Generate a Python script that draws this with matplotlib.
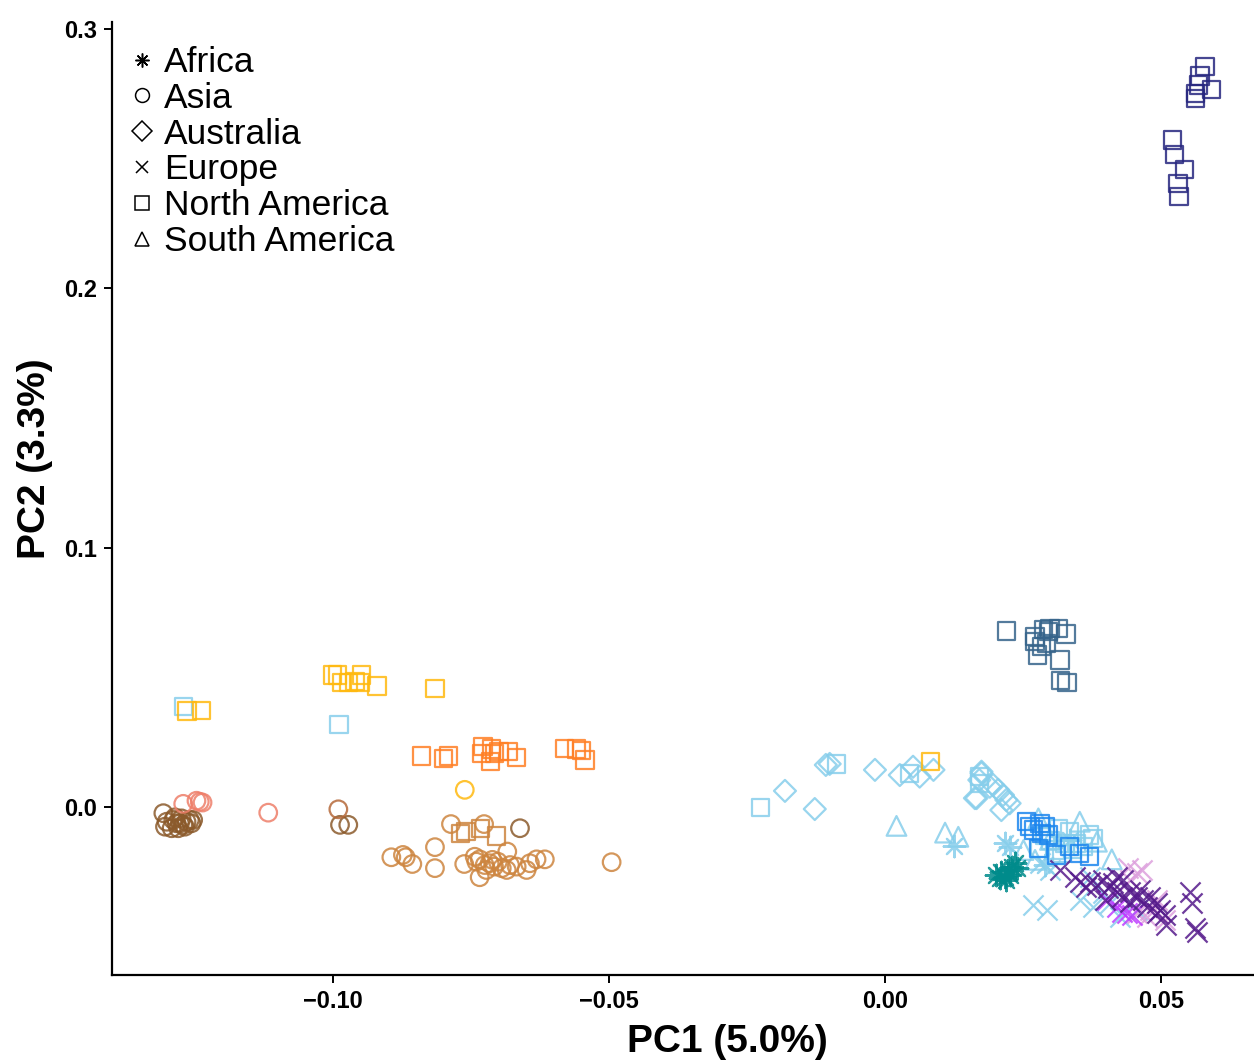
import matplotlib
matplotlib.use("Agg")
import matplotlib.pyplot as plt
from matplotlib.lines import Line2D

plt.rcParams['font.family'] = ['Liberation Sans', 'DejaVu Sans']

# ---------------- data (PC1, PC2) ----------------
# North America - navy cluster (top right)
na_navy_x = [0.0580, 0.0571, 0.0568, 0.0592, 0.0563, 0.0563, 0.0521, 0.0524, 0.0543, 0.0531, 0.0533]
na_navy_y = [0.2855, 0.2819, 0.2784, 0.2768, 0.2752, 0.2733, 0.2572, 0.2517, 0.2459, 0.2405, 0.2354]

# North America - steel blue cluster
na_steel_x = [0.0220, 0.0272, 0.0287, 0.0299, 0.0314, 0.0328, 0.0272, 0.0293, 0.0284, 0.0276, 0.0317, 0.0318, 0.0330, 0.0296]
na_steel_y = [0.0679, 0.0657, 0.0683, 0.0689, 0.0689, 0.0667, 0.0637, 0.0631, 0.0618, 0.0586, 0.0567, 0.0487, 0.0481, 0.0676]

# North America - gold
na_gold_x = [-0.1001, -0.0992, -0.0984, -0.0972, -0.0951, -0.0948, -0.0960, -0.0920, -0.0815, -0.1264, -0.1238, 0.0083]
na_gold_y = [0.0509, 0.0509, 0.0481, 0.0481, 0.0481, 0.0509, 0.0483, 0.0467, 0.0458, 0.0370, 0.0371, 0.0175]

# North America - orange
na_orange_x = [-0.0839, -0.0800, -0.0790, -0.0728, -0.0731, -0.0713, -0.0707, -0.0714, -0.0699, -0.0682, -0.0667, -0.0580, -0.0559, -0.0549, -0.0543]
na_orange_y = [0.0197, 0.0188, 0.0197, 0.0233, 0.0207, 0.0223, 0.0207, 0.0175, 0.0213, 0.0213, 0.0192, 0.0226, 0.0223, 0.0217, 0.0181]

# North America - peru
na_peru_x = [-0.0759, -0.0769, -0.0732, -0.0703]
na_peru_y = [-0.0095, -0.0101, -0.0082, -0.0112]

# North America - sky blue
na_sky_x = [-0.1271, -0.0989, -0.0225, -0.0088, 0.0045, 0.0172, 0.0171,
            0.0314, 0.0371, 0.0377, 0.0335, 0.0326, 0.0347, 0.0281, 0.0308, 0.0359, 0.0320,
            0.0300, 0.0290, 0.0340]
na_sky_y = [0.0388, 0.0319, -0.0003, 0.0166, 0.0130, 0.0117, 0.0091,
            -0.0082, -0.0108, -0.0121, -0.0095, -0.0140, -0.0140, -0.0159, -0.0166, -0.0153, -0.0179,
            -0.0130, -0.0110, -0.0165]

# North America - bright blue
na_blue_x = [0.0257, 0.0263, 0.0281, 0.0290, 0.0296, 0.0278, 0.0311, 0.0335, 0.0353, 0.0371, 0.0284, 0.0269]
na_blue_y = [-0.0057, -0.0076, -0.0063, -0.0076, -0.0108, -0.0159, -0.0185, -0.0153, -0.0179, -0.0192, -0.0101, -0.0089]

# Asia - salmon
as_salmon_x = [-0.1271, -0.1247, -0.1241, -0.1236, -0.1117]
as_salmon_y = [0.0012, 0.0024, 0.0020, 0.0017, -0.0022]

# Asia - sienna
as_sienna_x = [-0.0990]
as_sienna_y = [-0.0009]

# Asia - dark brown
as_brown_x = [-0.1307, -0.1301, -0.1289, -0.1283, -0.1277, -0.1271, -0.1265, -0.1259, -0.1256, -0.1304,
              -0.1292, -0.1280, -0.1268, -0.1253, -0.1274, -0.1286, -0.0987, -0.0972, -0.0661]
as_brown_y = [-0.0024, -0.0057, -0.0050, -0.0063, -0.0063, -0.0069, -0.0057, -0.0050, -0.0063, -0.0076,
              -0.0082, -0.0082, -0.0076, -0.0050, -0.0044, -0.0040, -0.0069, -0.0069, -0.0082]

# Asia - peru
as_peru_x = [-0.0786, -0.0726, -0.0815, -0.0894, -0.0873, -0.0868, -0.0856, -0.0815, -0.0762, -0.0743,
             -0.0734, -0.0734, -0.0725, -0.0716, -0.0708, -0.0701, -0.0694, -0.0684, -0.0679, -0.0667,
             -0.0649, -0.0643, -0.0631, -0.0616, -0.0495, -0.0722, -0.0685, -0.0740, -0.0711]
as_peru_y = [-0.0066, -0.0066, -0.0155, -0.0194, -0.0185, -0.0194, -0.0220, -0.0236, -0.0220, -0.0192,
             -0.0202, -0.0271, -0.0224, -0.0217, -0.0230, -0.0211, -0.0236, -0.0172, -0.0224, -0.0230,
             -0.0243, -0.0217, -0.0202, -0.0202, -0.0213, -0.0243, -0.0243, -0.0211, -0.0204]

# Asia - gold
as_gold_x = [-0.0761]
as_gold_y = [0.0066]

# Australia - sky blue
au_sky_x = [-0.0181, -0.0127, -0.0107, -0.0100, -0.0018, 0.0027, 0.0051, 0.0063, 0.0088, 0.0175, 0.0166,
            0.0175, 0.0171, 0.0196, 0.0205, 0.0214, 0.0220, 0.0226, 0.0163, 0.0211, 0.0190]
au_sky_y = [0.0062, -0.0008, 0.0162, 0.0166, 0.0143, 0.0123, 0.0155, 0.0117, 0.0143, 0.0130, 0.0034,
            0.0136, 0.0104, 0.0085, 0.0066, 0.0046, 0.0027, 0.0014, 0.0034, -0.0012, 0.0078]

# South America - sky blue
sa_sky_x = [0.0021, 0.0109, 0.0133, 0.0278, 0.0353, 0.0411, 0.0251, 0.0299, 0.0384, 0.0272]
sa_sky_y = [-0.0073, -0.0099, -0.0115, -0.0044, -0.0057, -0.0202, -0.0166, -0.0127, -0.0134, -0.0204]

# Africa - sky blue
af_sky_x = [0.0126, 0.0217, 0.0226, 0.0335, 0.0290]
af_sky_y = [-0.0150, -0.0140, -0.0153, -0.0127, -0.0224]

# Africa - teal
af_teal_x = [0.0202, 0.0211, 0.0217, 0.0223, 0.0230, 0.0236, 0.0239, 0.0220, 0.0208, 0.0226]
af_teal_y = [-0.0262, -0.0250, -0.0269, -0.0243, -0.0230, -0.0217, -0.0236, -0.0282, -0.0275, -0.0262]

# Europe - sky blue
eu_sky_x = [0.0269, 0.0293, 0.0353, 0.0377, 0.0299, 0.0395, 0.0426, 0.0456, 0.0371, 0.0281, 0.0408]
eu_sky_y = [-0.0378, -0.0397, -0.0359, -0.0385, -0.0243, -0.0333, -0.0423, -0.0397, -0.0269, -0.0217, -0.0372]

# Europe - plum
eu_plum_x = [0.0441, 0.0465, 0.0456, 0.0492, 0.0474, 0.0456, 0.0507, 0.0444, 0.0480]
eu_plum_y = [-0.0236, -0.0243, -0.0256, -0.0359, -0.0423, -0.0410, -0.0436, -0.0282, -0.0397]

# Europe - violet
eu_violet_x = [0.0402, 0.0420, 0.0438, 0.0447, 0.0429]
eu_violet_y = [-0.0359, -0.0385, -0.0410, -0.0417, -0.0404]

# Europe - dark purple
eu_purple_x = [0.0317, 0.0344, 0.0353, 0.0365, 0.0371, 0.0384, 0.0395, 0.0405, 0.0414, 0.0420, 0.0429, 0.0432,
               0.0444, 0.0456, 0.0462, 0.0468, 0.0480, 0.0492, 0.0498, 0.0507, 0.0510, 0.0553, 0.0556, 0.0562,
               0.0565, 0.0399, 0.0444, 0.0474, 0.0492, 0.0420]
eu_purple_y = [-0.0243, -0.0269, -0.0288, -0.0307, -0.0288, -0.0301, -0.0282, -0.0314, -0.0294, -0.0327, -0.0346, -0.0282,
               -0.0327, -0.0346, -0.0320, -0.0359, -0.0346, -0.0371, -0.0397, -0.0417, -0.0455, -0.0327, -0.0371, -0.0468,
               -0.0481, -0.0359, -0.0365, -0.0385, -0.0410, -0.0269]

legend_labels = ["Africa", "Asia", "Australia", "Europe", "North America", "South America"]

# ---------------- styles ----------------
ASTER = (8, 2, 0)
MK = {"Africa": ASTER, "Asia": "o", "Australia": "D", "Europe": "x",
      "North America": "s", "South America": "^"}
SIZE = {"Africa": 240, "Asia": 160, "Australia": 125, "Europe": 210,
        "North America": 155, "South America": 200}

SKY = '#87CEEB'
groups = [
    ("Australia", au_sky_x, au_sky_y, SKY),
    ("North America", na_sky_x, na_sky_y, SKY),
    ("South America", sa_sky_x, sa_sky_y, SKY),
    ("Africa", af_sky_x, af_sky_y, SKY),
    ("Europe", eu_sky_x, eu_sky_y, SKY),
    ("Europe", eu_plum_x, eu_plum_y, '#DDA0DD'),
    ("Europe", eu_violet_x, eu_violet_y, '#BF3EFF'),
    ("Europe", eu_purple_x, eu_purple_y, '#551A8B'),
    ("Africa", af_teal_x, af_teal_y, '#008B8B'),
    ("North America", na_blue_x, na_blue_y, '#1C86EE'),
    ("North America", na_steel_x, na_steel_y, '#36648B'),
    ("North America", na_navy_x, na_navy_y, '#27277F'),
    ("North America", na_gold_x, na_gold_y, '#FFB90F'),
    ("North America", na_orange_x, na_orange_y, '#FF7F24'),
    ("North America", na_peru_x, na_peru_y, '#CD853F'),
    ("Asia", as_peru_x, as_peru_y, '#CD853F'),
    ("Asia", as_brown_x, as_brown_y, '#8B5A2B'),
    ("Asia", as_salmon_x, as_salmon_y, '#EE7F6A'),
    ("Asia", as_sienna_x, as_sienna_y, '#B5693A'),
    ("Asia", as_gold_x, as_gold_y, '#FFB90F'),
]

# ---------------- figure ----------------
W, H = 1254, 1062
fig = plt.figure(figsize=(W / 100, H / 100), dpi=100)
ax_left, ax_right, ax_top, ax_bot = 112, 1342, 22, 975
ax = fig.add_axes([ax_left / W, 1 - ax_bot / H, (ax_right - ax_left) / W, (ax_bot - ax_top) / H])

for region, xs, ys, col in groups:
    m = MK[region]
    if m in ("x",) or m == ASTER:
        ax.scatter(xs, ys, marker=m, s=SIZE[region], c=col, linewidths=1.6, alpha=0.85)
    else:
        ax.scatter(xs, ys, marker=m, s=SIZE[region], facecolors='none', edgecolors=col,
                   linewidths=1.6, alpha=0.85)

ax.set_xlim(-0.140, 0.0828)
ax.set_ylim(-0.0648, 0.3027)

for s in ("top", "right"):
    ax.spines[s].set_visible(False)
for s in ("left", "bottom"):
    ax.spines[s].set_linewidth(1.6)

ax.set_xticks([-0.10, -0.05, 0.0, 0.05])
ax.set_xticklabels(["\u22120.10", "\u22120.05", "0.00", "0.05"])
ax.set_yticks([0.0, 0.1, 0.2, 0.3])
ax.set_yticklabels(["0.0", "0.1", "0.2", "0.3"])
ax.tick_params(axis='both', direction='out', length=6, width=1.4, labelsize=17, pad=5)
for lab in ax.get_xticklabels() + ax.get_yticklabels():
    lab.set_fontweight('bold')

fig.text(727 / W, 1 - 1042 / H, "PC1 (5.0%)", ha='center', va='center', fontsize=28, fontweight='bold')
fig.text(35 / W, 1 - 459 / H, "PC2 (3.3%)", ha='center', va='center', fontsize=28, fontweight='bold',
         rotation=90)

handles = [Line2D([], [], linestyle='none', marker=MK[r], color='black', markerfacecolor='none',
                  markersize=10 if r != "Europe" else 9, markeredgewidth=1.1) for r in legend_labels]
fig.legend(handles, legend_labels, loc='upper left', bbox_to_anchor=(129 / W, 1 - 46 / H),
           frameon=False, fontsize=25.5, handlelength=0.75, handletextpad=0.25,
           labelspacing=0.08, borderpad=0, borderaxespad=0)

fig.savefig("out.png", dpi=100)
